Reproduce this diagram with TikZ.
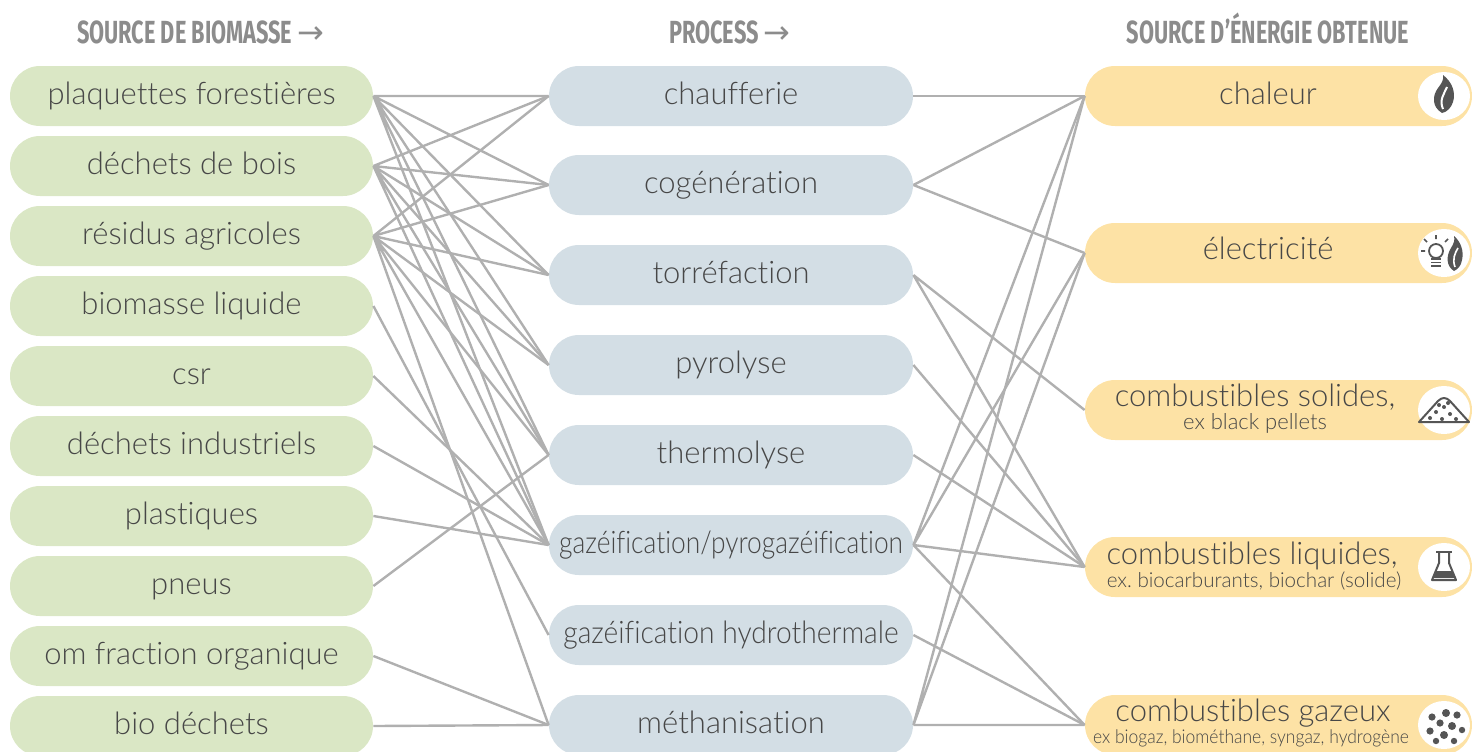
\documentclass[tikz,border=0pt]{standalone}
\usepackage{fontspec}
\setmainfont{Lato Light}[Ligatures=NoCommon, RawFeature={-liga;-clig;-calt;-dlig}]
\newfontfamily\headfont[FakeStretch=0.68]{Fira Sans}
\newfontfamily\arrowfont{DejaVu Sans}
\definecolor{vert}{HTML}{DAE7C5}
\definecolor{bleu}{HTML}{D3DEE5}
\definecolor{jaune}{HTML}{FDE2A5}
\definecolor{texte}{HTML}{474747}
\definecolor{gristitre}{HTML}{8C8C8C}
\definecolor{lien}{HTML}{B0B0B0}
\definecolor{icone}{HTML}{555555}
\tikzset{
  boite/.style = {rectangle, rounded corners=15pt, minimum height=30pt,
    inner sep=0pt, text=texte, font=\fontsize{15.5}{17}\selectfont,
    text height=11pt, text depth=3pt},
  src/.style = {boite, fill=vert, minimum width=181.5pt},% source de biomasse
  proc/.style = {boite, fill=bleu, minimum width=182pt},% process
  nrj/.style = {boite, fill=jaune, minimum width=193.5pt},% energie obtenue
  titre/.style = {text=gristitre, anchor=base,
    font=\headfont\bfseries\fontsize{16}{18}\selectfont},
  lien/.style = {draw=lien, line width=1.2pt},
  sous/.style = {text=texte, inner sep=0pt},
  pastille/.style = {fill=white}
}
\frenchspacing
\begin{document}
\begin{tikzpicture}[x=0.5pt,y=-0.5pt]
\useasboundingbox (0,0) rectangle (1472,751);
% titres
\node [titre, anchor=base west] (t1) at (70,43) {SOURCE DE BIOMASSE {\arrowfont\mdseries →}};
\node [titre] (t2) at (730,43) {PROCESS {\arrowfont\mdseries →}};
\node [titre] (t3) at (1268,43) {SOURCE D’ÉNERGIE OBTENUE};
% sources
\node [src] (plaq) at (191.5,96) {plaquettes forestières};
\node [src] (dbois) at (191.5,166) {déchets de bois};
\node [src] (resid) at (191.5,236) {résidus agricoles};
\node [src] (bliq) at (191.5,306) {biomasse liquide};
\node [src] (csr) at (191.5,376) {csr};
\node [src] (dind) at (191.5,446) {déchets industriels};
\node [src] (plast) at (191.5,516) {plastiques};
\node [src] (pneus) at (191.5,586) {pneus};
\node [src] (om) at (191.5,656) {om fraction organique};
\node [src] (biod) at (191.5,726) {bio déchets};
% process
\node [proc] (chauf) at (731,96) {chaufferie};
\node [proc] (cogen) at (731,185) {cogénération};
\node [proc] (torre) at (731,275) {torréfaction};
\node [proc] (pyro) at (731,365) {pyrolyse};
\node [proc] (thermo) at (731,455) {thermolyse};
\node [proc] (gazei) at (731,545) {\addfontfeature{FakeStretch=0.85}gazéification/pyrogazéification};
\node [proc] (hydro) at (731,635) {\addfontfeature{FakeStretch=0.91}gazéification hydrothermale};
\node [proc] (metha) at (731,725) {méthanisation};
% energie
\node [nrj] (chal) at (1278.5,96) {};
\node [nrj] (elec) at (1278.5,253) {};
\node [nrj] (sol) at (1278.5,410) {};
\node [nrj] (liq) at (1278.5,567) {};
\node [nrj] (gazx) at (1278.5,725) {};
\node [boite] (chalt) at (1268,96) {chaleur};
\node [boite] (elect) at (1268,251) {électricité};
\node [boite] (solt) at (1255,398) {combustibles solides,};
\node [sous, font=\fontsize{11}{12}\selectfont] (sols) at (1255,423) {ex black pellets};
\node [boite] (liqt) at (1252,556) {combustibles liquides,};
\node [sous, font=\fontsize{10.3}{12}\selectfont] (liqs) at (1254,581) {ex. biocarburants, biochar (solide)};
\node [boite] (gazt) at (1253,713) {combustibles gazeux};
\node [sous, font=\fontsize{9.5}{11}\selectfont\addfontfeature{FakeStretch=0.92}] (gazs) at (1251,738) {ex biogaz, biométhane, syngaz, hydrogène};
% liens sources -> process
\draw [lien] (plaq.east) -- (chauf.west) (plaq.east) -- (cogen.west)
  (plaq.east) -- (torre.west) (plaq.east) -- (pyro.west)
  (plaq.east) -- (thermo.west) (plaq.east) -- (gazei.west);
\draw [lien] (dbois.east) -- (chauf.west) (dbois.east) -- (cogen.west)
  (dbois.east) -- (torre.west) (dbois.east) -- (pyro.west)
  (dbois.east) -- (thermo.west) (dbois.east) -- (gazei.west);
\draw [lien] (resid.east) -- (chauf.west) (resid.east) -- (cogen.west)
  (resid.east) -- (torre.west) (resid.east) -- (pyro.west)
  (resid.east) -- (thermo.west) (resid.east) -- (gazei.west)
  (resid.east) -- (metha.west);
\draw [lien] (bliq.east) -- (hydro.west);
\draw [lien] (csr.east) -- (gazei.west);
\draw [lien] (dind.east) -- (gazei.west);
\draw [lien] (plast.east) -- (gazei.west);
\draw [lien] (pneus.east) -- (thermo.west);
\draw [lien] (om.east) -- (metha.west);
\draw [lien] (biod.east) -- (metha.west);
% liens process -> energie
\draw [lien] (chauf.east) -- (chal.west);
\draw [lien] (cogen.east) -- (chal.west) (cogen.east) -- (elec.west);
\draw [lien] (torre.east) -- (sol.west) (torre.east) -- (liq.west);
\draw [lien] (pyro.east) -- (liq.west);
\draw [lien] (thermo.east) -- (liq.west);
\draw [lien] (gazei.east) -- (chal.west) (gazei.east) -- (elec.west)
  (gazei.east) -- (liq.west) (gazei.east) -- (gazx.west);
\draw [lien] (hydro.east) -- (gazx.west);
\draw [lien] (metha.east) -- (chal.west) (metha.east) -- (elec.west)
  (metha.east) -- (gazx.west);
% pictos
\foreach \y in {96,253,410,567,725}
  \fill [pastille] (1444,\y) ellipse [x radius=13pt, y radius=12pt];
% flamme
\begin{scope}[shift={(1444,96)}]
  \fill [icone] (-2,17) .. controls (-12,11) and (-12,0) .. (-6,-8)
    .. controls (-2,-13) and (0,-17) .. (-1,-21)
    .. controls (8,-14) and (12,-4) .. (9,6) .. controls (7,12) and (3,16) .. (-2,17) -- cycle;
  \draw [white, line width=1pt] (-1,13) .. controls (-5,4) and (0,-2) .. (3,-9);
\end{scope}
% ampoule et flamme
\begin{scope}[shift={(1444,253)}]
  \fill [icone] (10,18) .. controls (2,13) and (2,3) .. (7,-5)
    .. controls (10,-10) and (11,-13) .. (10,-17)
    .. controls (17,-11) and (20,-2) .. (18,7) .. controls (17,13) and (14,16) .. (10,18) -- cycle;
  \draw [white, line width=0.8pt] (11,14) .. controls (8,6) and (11,0) .. (14,-5);
  \draw [icone, line width=0.9pt] (-8,-2) circle [radius=3.5pt];
  \fill [icone] (-13,5) rectangle (-3,14);
  \draw [white, line width=0.6pt] (-13,8) -- (-3,8) (-13,11) -- (-3,11);
  \draw [icone, line width=0.8pt] (-8,-14) -- (-8,-18) (-17,-11) -- (-20,-14)
    (1,-11) -- (4,-14) (-19,-2) -- (-23,-2);
\end{scope}
% tas
\begin{scope}[shift={(1444,410)}]
  \draw [icone, line width=1pt, line join=round] (-25,12) -- (-6,-9)
    .. controls (-2,-13) and (2,-13) .. (6,-9) -- (25,12) -- cycle;
  \foreach \p in {(-8,2),(0,-3),(6,4),(-14,8),(12,9),(-2,9),(4,-7),(-5,-5)}
    \fill [icone] \p circle [radius=1pt];
\end{scope}
% fiole
\begin{scope}[shift={(1444,567)}]
  \draw [icone, line width=1pt, line join=round] (-5,-15) -- (-5,-4) -- (-12,13)
    -- (12,13) -- (5,-4) -- (5,-15);
  \draw [icone, line width=1pt] (-8,-15) -- (8,-15);
  \fill [icone] (-8,4) -- (8,4) -- (11,11) -- (-11,11) -- cycle;
\end{scope}
% bulles
\begin{scope}[shift={(1444,725)}]
  \foreach \p/\r in {(-12,-8)/1.8pt,(2,-12)/2pt,(13,-10)/1.8pt,(-4,-2)/1.8pt,(8,1)/2pt,(-14,6)/1.8pt,(18,5)/1.6pt,(0,10)/2pt,(-8,16)/1.6pt,(10,16)/1.6pt}
    \fill [icone] \p circle [radius=\r];
\end{scope}
\end{tikzpicture}
\end{document}
